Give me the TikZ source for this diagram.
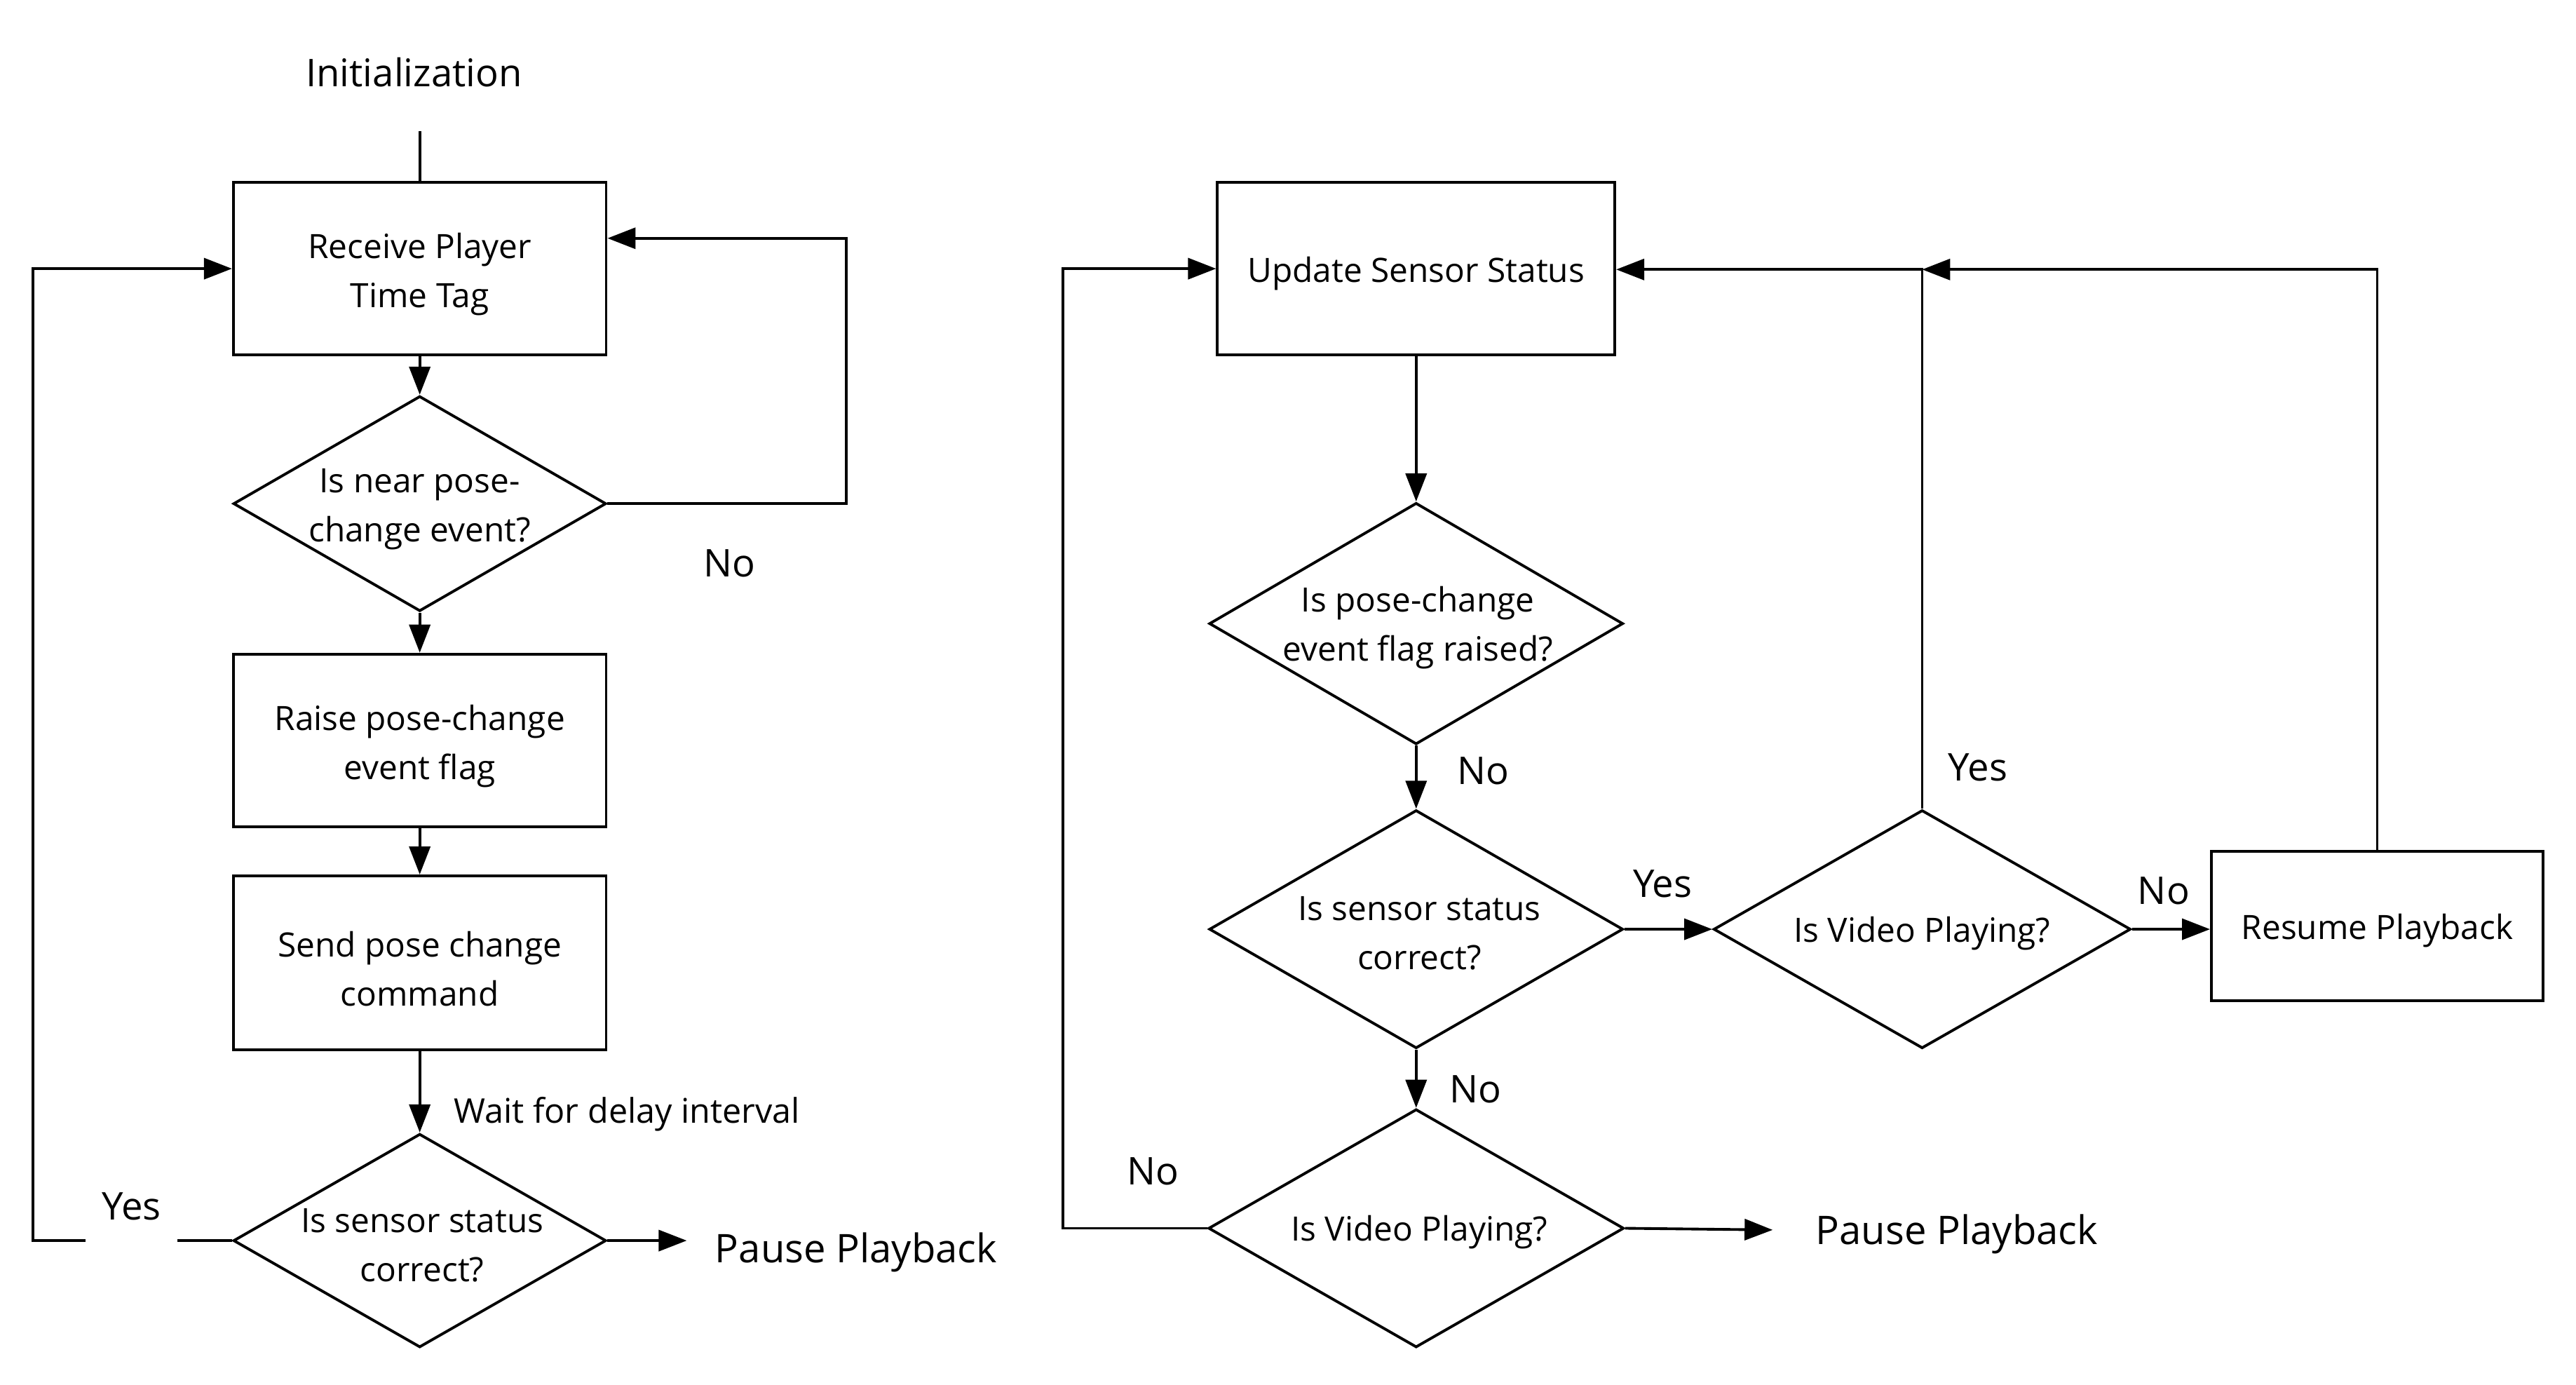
\documentclass[tikz,border=0pt]{standalone}
\usepackage{fontspec}
\setmainfont{Open Sans}
\usetikzlibrary{arrows.meta,shapes.geometric}
\begin{document}
\begin{tikzpicture}[x=0.023431cm,y=-0.023431cm,
  shapeline/.style={line width=1.1pt},
  conn/.style={line width=1.1pt},
  arr/.style={conn,-{Triangle[length=4mm,width=3mm]}},
  procbox/.style={draw,shapeline,rectangle,inner sep=0pt},
  decision/.style={draw,shapeline,diamond,inner sep=0pt},
  ntext/.style={align=center,font=\fontsize{13.6}{20}\selectfont,inner sep=0pt},
  lbl/.style={font=\fontsize{15.5}{18}\selectfont,inner sep=0pt},
  waitlbl/.style={font=\fontsize{13.8}{18}\selectfont,inner sep=0pt,anchor=west},
  endtext/.style={font=\fontsize{16}{19}\selectfont,anchor=west,inner sep=0pt}
]
\useasboundingbox (0,0) rectangle (1568,842.47);

% ---------- left flow ----------
\node[lbl] (init) at (252,44) {Initialization};
\coordinate (initc) at (255.5,80);

\node[procbox,minimum width=5.319cm,minimum height=2.460cm] (b1) at (255.5,163.5) {};
\node[ntext] (b1t) at (255.5,167) {Receive Player\\Time Tag};
\node[decision,minimum width=5.319cm,minimum height=3.069cm] (d1) at (255.5,306.5) {};
\node[ntext] (d1t) at (255.5,310) {Is near pose-\\change event?};
\node[procbox,minimum width=5.319cm,minimum height=2.460cm] (b2) at (255.5,450.5) {};
\node[ntext] (b2t) at (255.5,454) {Raise pose-change\\event flag};
\node[procbox,minimum width=5.319cm,minimum height=2.484cm] (b3) at (255.5,586) {};
\node[ntext] (b3t) at (255.5,589.5) {Send pose change\\command};
\node[decision,minimum width=5.319cm,minimum height=3.046cm] (d2) at (255.5,755) {};
\node[ntext] (d2t) at (257,758) {Is sensor status\\correct?};

\node[waitlbl] (wait) at (276,678) {Wait for delay interval};
\node[lbl] (no1) at (444,343) {No};
\node[lbl] (yes1) at (80,734) {Yes};
\node[endtext] (pause1) at (435,762) {Pause Playback};

\coordinate (c1a) at (515,306.5);
\coordinate (c1b) at (515,145);
\coordinate (pa1) at (418,755);
\coordinate (y1a) at (108,755);
\coordinate (y1b) at (52,755);
\coordinate (c2) at (20,755);

\draw[conn] (initc) -- (b1.north);
\draw[arr] (b1.south) -- (d1.north);
\draw[arr] (d1.south) -- (b2.north);
\draw[arr] (b2.south) -- (b3.north);
\draw[arr] (b3.south) -- (d2.north);
\draw[arr] (d1.east) -- (c1a) -- (c1b) -- (b1.east |- c1b);
\draw[arr] (d2.east) -- (pa1);
\draw[conn] (d2.west) -- (y1a);
\draw[arr] (y1b) -- (c2) |- (b1.west);

% ---------- right flow ----------
\node[procbox,minimum width=5.670cm,minimum height=2.460cm] (b4) at (862,163.5) {};
\node[ntext] (b4t) at (862,166.5) {Update Sensor Status};
\node[decision,minimum width=5.905cm,minimum height=3.444cm] (d3) at (862,379.5) {};
\node[ntext] (d3t) at (863,382) {Is pose-change\\event flag raised?};
\node[decision,minimum width=5.905cm,minimum height=3.398cm] (d4) at (862,565.5) {};
\node[ntext] (d4t) at (864,568) {Is sensor status\\correct?};
\node[decision,minimum width=5.951cm,minimum height=3.398cm] (d5) at (1170,565.5) {};
\node[ntext] (d5t) at (1170,568) {Is Video Playing?};
\node[procbox,minimum width=4.733cm,minimum height=2.132cm] (r1) at (1447,563.5) {};
\node[ntext] (r1t) at (1447,566.5) {Resume Playback};
\node[decision,minimum width=5.928cm,minimum height=3.398cm] (d6) at (862,747.5) {};
\node[ntext] (d6t) at (864,750) {Is Video Playing?};

\node[lbl] (no2) at (903,469) {No};
\node[lbl] (yes2) at (1012,538) {Yes};
\node[lbl] (yes3) at (1204,467) {Yes};
\node[lbl] (no3) at (1317,542) {No};
\node[lbl] (no4) at (898,663) {No};
\node[lbl] (no5) at (702,713) {No};
\node[endtext] (pause2) at (1105,751) {Pause Playback};

\coordinate (j1) at (1170,164);
\coordinate (pa2) at (1079,748.5);
\coordinate (c3) at (647,747.5);

\draw[arr] (b4.south) -- (d3.north);
\draw[arr] (d3.south) -- (d4.north);
\draw[arr] (d4.east) -- (d5.west);
\draw[arr] (d5.east) -- (r1.west |- d5.east);
\draw[arr] (d5.north) -- (j1) -- (j1 -| b4.east);
\draw[arr] (r1.north) |- (j1);
\draw[arr] (d4.south) -- (d6.north);
\draw[arr] (d6.east) -- (pa2);
\draw[arr] (d6.west) -- (c3) |- (b4.west);
\end{tikzpicture}
\end{document}
